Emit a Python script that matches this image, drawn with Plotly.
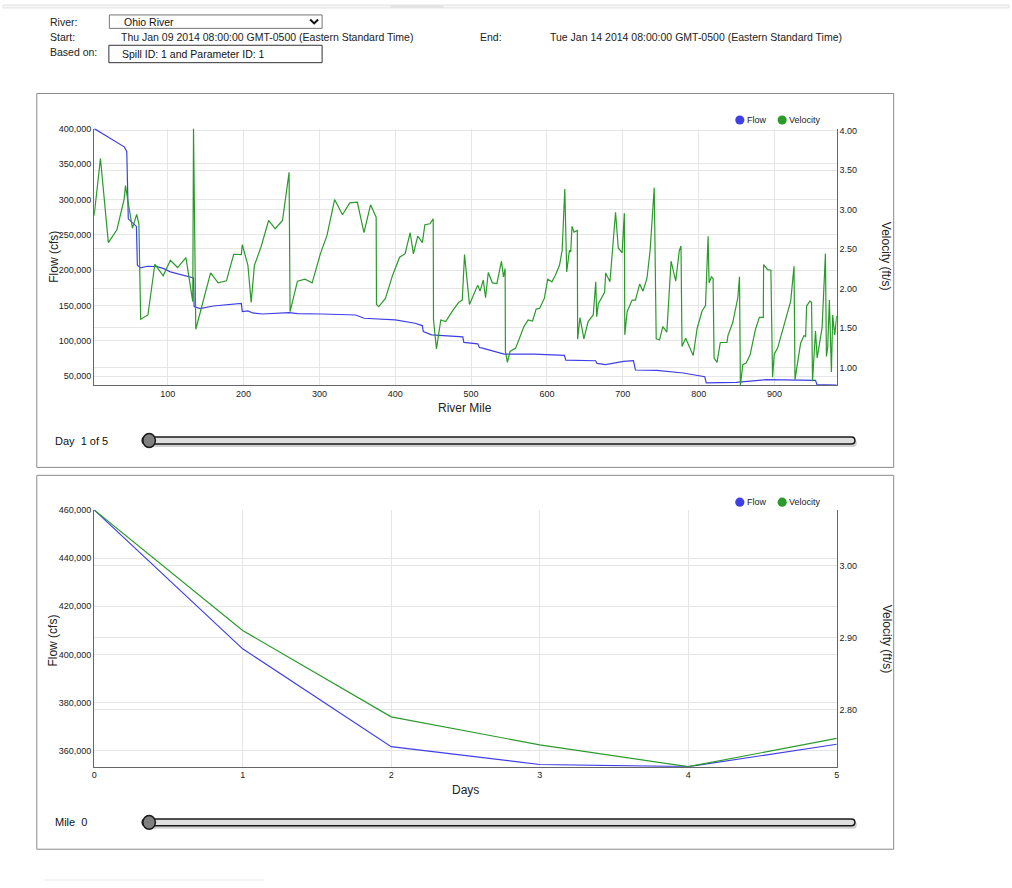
import plotly.graph_objects as go

W, H = 1012, 888

# ---------------- data ----------------
mile_flow = [3, 42.6, 46, 48, 58.7, 60, 64.3, 73, 86, 94.8, 103.5, 134, 134.8, 142.6, 160, 197,
             198.3, 205.7, 212, 225, 260, 271, 303.5, 327.8, 347.8, 358.7, 400, 426, 435.6, 437,
             447.8, 489, 490.4, 508.7, 510.9, 515, 543.5, 582.6, 623, 624.8, 649, 664, 666, 677,
             701, 714, 716.6, 745, 779.7, 797, 808, 810, 849.5, 888.7, 954, 956, 982]
flow_cfs = [400000, 374200, 367700, 272500, 261800, 206900, 203200, 205500, 205000, 202200, 197600,
            189100, 148400, 145600, 149300, 153000, 141300, 142300, 139500, 138000, 140000, 138600,
            138000, 137100, 136600, 132000, 129600, 125000, 121700, 113200, 108500, 105700, 97800,
            95900, 90700, 89800, 81300, 81300, 79500, 72900, 72400, 72000, 68200, 66400, 71000,
            72000, 58900, 58400, 54700, 50900, 49500, 40600, 41500, 45300, 44300, 38200, 37500]

mile_vel = [3, 11.3, 21.7, 33, 42.6, 44.3, 47.8, 53.5, 59, 62, 64.3, 73.9, 83, 94, 103.5, 113, 124,
            133, 134, 135, 137, 156.5, 166.5, 177.4, 187, 197, 198.3, 205.7, 210, 214.3, 223, 233,
            241.7, 251.3, 260, 261.3, 271, 281, 290.4, 301.3, 310, 320, 330.4, 340, 350, 358.7,
            367.4, 374.8, 375.2, 378.3, 387, 396.5, 405.7, 413, 419.6, 423.9, 429.6, 435.7, 439,
            445.7, 450, 450.4, 454.3, 460, 466.5, 474.8, 483.5, 488.3, 491.3, 497.8, 508.7, 511.7,
            516, 519, 522.6, 528, 534, 540, 542.6, 544.8, 545.2, 547.8, 551.3, 558.7, 569.6, 575.2,
            581, 585.7, 590.4, 596.5, 601, 606.5, 611, 616.5, 620, 623.5, 626, 629.6, 631.3, 633,
            635.7, 640, 640.4, 643.5, 648.7, 654.2, 661, 664.3, 665.6, 667.8, 676, 677.4, 683,
            690.4, 694, 699, 702, 702.6, 705.7, 712.2, 716.6, 722.2, 726.6, 731.8, 736, 741.4, 744,
            748.4, 752.7, 758, 763.6, 769.7, 774.5, 776.7, 778, 782.8, 787.6, 792.8, 798, 804.5,
            809, 812.4, 813.7, 816.8, 819, 820.3, 824.2, 828.5, 837.3, 838.6, 845, 851.6, 853.8,
            855, 858.2, 862.5, 867.8, 874.7, 880, 885.2, 885.6, 890.8, 895.2, 897.4, 899.6, 904,
            909.6, 914.8, 921.3, 925.7, 927, 930, 934.4, 938.8, 941, 942.3, 946.6, 948.8, 950.1,
            954, 956.2, 962.7, 967.1, 968.4, 970.1, 972.3, 975, 976.7, 979.3, 982]
velocity_fts = [2.924, 3.647, 2.580, 2.744, 3.134, 3.303, 3.092, 2.765, 2.937, 2.819, 1.609, 1.664,
                2.307, 2.160, 2.357, 2.265, 2.391, 1.832, 4.025, 3.092, 1.483, 2.197, 2.071, 2.097,
                2.433, 2.429, 2.555, 2.294, 1.824, 2.294, 2.525, 2.861, 2.756, 2.861, 3.471, 1.706,
                2.092, 2.118, 2.071, 2.441, 2.672, 3.126, 2.933, 3.084, 3.092, 2.706, 3.059, 2.903,
                1.798, 1.769, 1.874, 2.168, 2.395, 2.441, 2.706, 2.437, 2.664, 2.580, 2.807, 2.819,
                2.882, 1.601, 1.235, 1.601, 1.580, 1.706, 1.824, 1.853, 2.429, 1.798, 2.042, 1.966,
                2.105, 1.882, 2.202, 2.071, 2.063, 2.345, 2.147, 2.252, 1.202, 1.063, 1.202, 1.244,
                1.517, 1.601, 1.588, 1.739, 1.748, 1.874, 2.118, 2.084, 2.168, 2.294, 2.483, 3.261,
                2.210, 2.483, 2.462, 2.786, 2.714, 2.735, 1.357, 1.630, 1.361, 1.580, 1.664, 2.084,
                1.643, 1.811, 1.950, 2.197, 2.084, 2.966, 2.513, 2.450, 2.954, 1.412, 1.706, 1.853,
                1.853, 2.055, 1.966, 2.126, 2.483, 3.277, 1.361, 1.349, 1.517, 1.445, 2.345, 2.092,
                2.483, 2.538, 1.265, 1.370, 1.273, 1.151, 1.496, 1.714, 1.782, 2.660, 2.071, 2.147,
                2.126, 1.118, 1.063, 1.315, 1.315, 1.403, 1.571, 1.882, 2.147, 0.775, 1.034, 1.055,
                1.160, 1.475, 1.634, 1.634, 2.303, 2.239, 2.231, 0.874, 1.168, 1.244, 1.433, 1.622,
                1.840, 2.282, 0.845, 1.034, 1.307, 1.403, 1.391, 1.777, 1.840, 1.824, 0.824, 1.462,
                1.118, 1.504, 2.441, 1.139, 1.252, 1.853, 0.941, 1.664, 1.412, 1.650]

days = [0, 1, 2, 3, 4, 5]
day_flow = [460000, 402300, 361700, 354300, 353400, 362700]
day_velocity = [3.078, 2.910, 2.790, 2.751, 2.7206, 2.760]

mile_ticks = [100, 200, 300, 400, 500, 600, 700, 800, 900]
flow_ticks_top = [50000, 100000, 150000, 200000, 250000, 300000, 350000, 400000]
vel_ticks_top = [1.0, 1.5, 2.0, 2.5, 3.0, 3.5, 4.0]
day_ticks = [0, 1, 2, 3, 4, 5]
flow_ticks_bottom = [360000, 380000, 400000, 420000, 440000, 460000]
vel_ticks_bottom = [2.8, 2.9, 3.0]

BLUE = "#3f3fe8"
GREEN = "#2a9a2a"
FONT = "Liberation Sans, Arial, sans-serif"
GRID = "#e6e6e6"
AXLINE = "#666666"


def X(p):
    return p / W


def Y(p):
    return 1 - p / H


fig = go.Figure()
fig.add_trace(go.Scatter(x=mile_flow, y=flow_cfs, mode="lines", name="Flow",
                         line=dict(color=BLUE, width=1.2), xaxis="x", yaxis="y", showlegend=False))
fig.add_trace(go.Scatter(x=mile_vel, y=velocity_fts, mode="lines", name="Velocity",
                         line=dict(color=GREEN, width=1.2), xaxis="x", yaxis="y2", showlegend=False))
fig.add_trace(go.Scatter(x=days, y=day_flow, mode="lines", name="Flow",
                         line=dict(color=BLUE, width=1.2), xaxis="x2", yaxis="y3", showlegend=False))
fig.add_trace(go.Scatter(x=days, y=day_velocity, mode="lines", name="Velocity",
                         line=dict(color=GREEN, width=1.2), xaxis="x2", yaxis="y4", showlegend=False))

tickfont = dict(family=FONT, size=9, color="#222")
common = dict(showgrid=True, gridcolor=GRID, gridwidth=1, zeroline=False, ticks="",
              tickfont=tickfont, showline=True, linecolor=AXLINE, linewidth=1, fixedrange=True)

xdom = [X(91.7), X(838.7)]
top_dom = [Y(382.3), Y(124.3)]
bot_dom = [Y(766), Y(507.7)]

fig.update_layout(
    width=W, height=H, margin=dict(l=0, r=0, t=0, b=0),
    paper_bgcolor="white", plot_bgcolor="white",
    font=dict(family=FONT, color="#222"),
    xaxis=dict(domain=xdom, anchor="y", range=[min(mile_vel), max(mile_vel)],
               tickvals=mile_ticks, **common),
    yaxis=dict(domain=top_dom, anchor="x", range=[min(flow_cfs), max(flow_cfs)],
               tickvals=flow_ticks_top, tickformat=",", **common),
    yaxis2=dict(overlaying="y", side="right", anchor="x",
                range=[min(velocity_fts), max(velocity_fts)],
                tickvals=vel_ticks_top, tickformat=".2f", **common),
    xaxis2=dict(domain=xdom, anchor="y3", range=[min(days), max(days)],
                tickvals=day_ticks, **common),
    yaxis3=dict(domain=bot_dom, anchor="x2", range=[min(day_flow), max(day_flow)],
                tickvals=flow_ticks_bottom, tickformat=",", **common),
    yaxis4=dict(overlaying="y3", side="right", anchor="x2",
                range=[min(day_velocity), max(day_velocity)],
                tickvals=vel_ticks_bottom, tickformat=".2f", **common),
)

shapes = []
annotations = []


def rect(x0, y0, x1, y1, line="#888", width=1, fill="rgba(0,0,0,0)", layer="above"):
    shapes.append(dict(type="rect", xref="paper", yref="paper", x0=X(x0), x1=X(x1),
                       y0=Y(y0), y1=Y(y1), line=dict(color=line, width=width),
                       fillcolor=fill, layer=layer))


def circle(cx, cy, rx, ry, fill, line=None, width=0):
    shapes.append(dict(type="circle", xref="paper", yref="paper", x0=X(cx - rx), x1=X(cx + rx),
                       y0=Y(cy + ry), y1=Y(cy - ry), fillcolor=fill,
                       line=dict(color=line or fill, width=width)))


def text(s, x, y, size=11, anchor="left", angle=0, color="#222"):
    annotations.append(dict(text=s, xref="paper", yref="paper", x=X(x), y=Y(y),
                            xanchor=anchor, yanchor="middle", showarrow=False, textangle=angle,
                            font=dict(family=FONT, size=size, color=color)))


def pill(x0, x1, yc, h, fill, line=None, width=0):
    r = h / 2.0
    t, b = yc - r, yc + r
    p = (f"M {X(x0 + r)},{Y(t)} L {X(x1 - r)},{Y(t)} "
         f"Q {X(x1)},{Y(t)} {X(x1)},{Y(yc)} Q {X(x1)},{Y(b)} {X(x1 - r)},{Y(b)} "
         f"L {X(x0 + r)},{Y(b)} Q {X(x0)},{Y(b)} {X(x0)},{Y(yc)} "
         f"Q {X(x0)},{Y(t)} {X(x0 + r)},{Y(t)} Z")
    shapes.append(dict(type="path", xref="paper", yref="paper", path=p, fillcolor=fill,
                       line=dict(color=line or fill, width=width)))


# page top bar
rect(0, 0, 1012, 3, line="#e2e2e2", width=1, fill="#f6f6f6")
rect(390, 0, 443, 3, line="#e0e0e0", width=0, fill="#e4e4e4")

# header
HS = 10.5
text("River:", 45, 17, size=HS)
rect(107, 10, 321, 23.5, line="#767676", width=1, fill="white")
text("Ohio River", 120, 17, size=HS, color="#111")
shapes.append(dict(type="path", xref="paper", yref="paper",
                   path=f"M {X(309)},{Y(14.5)} L {X(313)},{Y(18.5)} L {X(317)},{Y(14.5)}",
                   line=dict(color="#111", width=2)))
text("Start:", 45, 32, size=HS)
text("Thu Jan 09 2014 08:00:00 GMT-0500 (Eastern Standard Time)", 117, 32, size=HS)
text("End:", 478, 32, size=HS)
text("Tue Jan 14 2014 08:00:00 GMT-0500 (Eastern Standard Time)", 548, 32, size=HS)
text("Based on:", 45, 47, size=HS)
rect(106.5, 40.5, 321, 58, line="#333", width=1, fill="white")
text("Spill ID: 1 and Parameter ID: 1", 118, 49.5, size=HS, color="#111")

# panels
rect(34, 89, 896, 465, line="#8a8a8a", width=1, layer="below")
rect(34, 473, 896, 849, line="#8a8a8a", width=1, layer="below")

# axis titles
text("Flow (cfs)", 50.5, 253, size=12, anchor="center", angle=-90)
text("River Mile", 465, 405, size=12, anchor="center")
text("Velocity (ft/s)", 889, 253, size=12, anchor="center", angle=90)
text("Flow (cfs)", 50.5, 639, size=12, anchor="center", angle=-90)
text("Days", 465, 789, size=12, anchor="center")
text("Velocity (ft/s)", 889, 638, size=12, anchor="center", angle=90)

# legends
for ly in (115.7, 500):
    circle(741.2, ly, 4.6, 4.6, BLUE)
    text("Flow", 746, ly, size=9)
    circle(783.8, ly, 4.6, 4.6, GREEN)
    text("Velocity", 788.5, ly, size=9)

# sliders
for sy, label in ((438, "Day\u00a0 1 of 5"), (822, "Mile\u00a0 0")):
    text(label, 50, sy, size=11, color="#111")
    pill(141, 859, sy + 2.5, 8, "rgba(0,0,0,0.18)")
    pill(140, 857, sy, 7, "#dedede", line="#1a1a1a", width=1.5)
    circle(147, sy, 6.3, 7, "#808080", line="#1a1a1a", width=1.5)

# faint line at bottom
shapes.append(dict(type="line", xref="paper", yref="paper", x0=X(42), x1=X(262),
                   y0=Y(880), y1=Y(880), line=dict(color="#e8e8e8", width=1)))

fig.update_layout(shapes=shapes, annotations=annotations)
fig.write_html("out.html",
               post_script="document.body.style.margin='0px';"
                           "document.documentElement.style.overflow='hidden';")
